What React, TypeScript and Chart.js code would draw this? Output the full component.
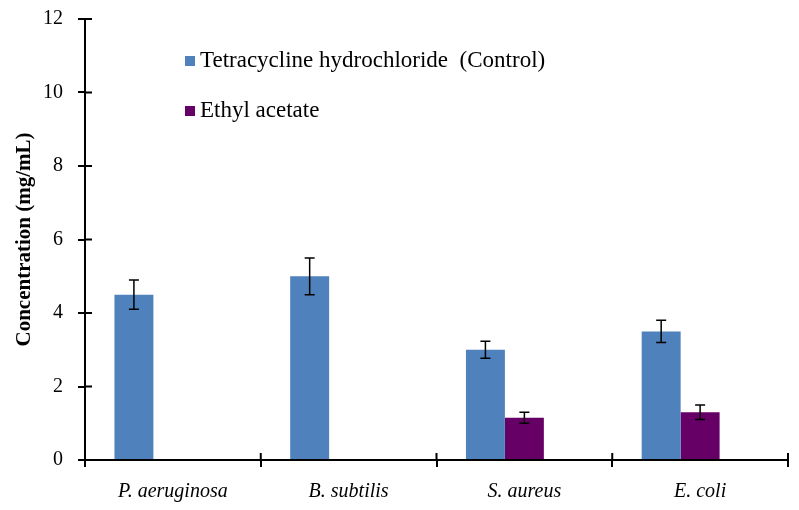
import { useEffect, useRef } from "react"
import { Chart, registerables } from "chart.js"

Chart.register(...registerables)

const categories = ["P. aeruginosa", "B. subtilis", "S. aureus", "E. coli"]
const tetracycline = [4.5, 5.0, 3.0, 3.5]
const tetracyclineErr = [0.4, 0.5, 0.23, 0.3]
const ethylAcetate = [null, null, 1.15, 1.3]
const ethylAcetateErr = [null, null, 0.15, 0.2]
// empty third slot in each group (the source chart reserves room for it)
const unused = [null, null, null, null]

const BLUE = "#4F81BD"
const PURPLE = "#660066"
const FONT = "'Liberation Serif', 'Times New Roman', serif"

const errors = [tetracyclineErr, ethylAcetateErr]

const errorBars = {
  id: "errorBars",
  afterDatasetsDraw(chart) {
    const { ctx } = chart
    const y = chart.scales.y
    ctx.save()
    ctx.strokeStyle = "#000"
    ctx.lineWidth = 1.5
    errors.forEach((errs, di) => {
      const meta = chart.getDatasetMeta(di)
      const values = chart.data.datasets[di].data
      meta.data.forEach((bar, i) => {
        const v = values[i]
        const e = errs[i]
        if (v == null || e == null) return
        const top = y.getPixelForValue(v + e)
        const bot = y.getPixelForValue(v - e)
        ctx.beginPath()
        ctx.moveTo(bar.x, top)
        ctx.lineTo(bar.x, bot)
        ctx.moveTo(bar.x - 5, top)
        ctx.lineTo(bar.x + 5, top)
        ctx.moveTo(bar.x - 5, bot)
        ctx.lineTo(bar.x + 5, bot)
        ctx.stroke()
      })
    })
    ctx.restore()
  },
}

// inner half of the crossing tick marks
const innerTicks = {
  id: "innerTicks",
  afterDraw(chart) {
    const { ctx, chartArea } = chart
    const x = chart.scales.x
    const y = chart.scales.y
    ctx.save()
    ctx.strokeStyle = "#000"
    ctx.lineWidth = 2
    ctx.beginPath()
    y.ticks.forEach((t) => {
      const py = y.getPixelForValue(t.value)
      ctx.moveTo(chartArea.left, py)
      ctx.lineTo(chartArea.left + 7, py)
    })
    for (let i = 0; i <= categories.length; i++) {
      const px = x.getPixelForValue(i - 0.5)
      ctx.moveTo(px, chartArea.bottom)
      ctx.lineTo(px, chartArea.bottom - 7)
    }
    ctx.stroke()
    ctx.restore()
  },
}

export default function App() {
  const chartRef = useRef(null)
  const chartInstance = useRef(null)

  useEffect(() => {
    if (chartInstance.current) chartInstance.current.destroy()
    if (!chartRef.current) return
    const ctx = chartRef.current.getContext("2d")

    chartInstance.current = new Chart(ctx, {
      type: "bar",
      data: {
        labels: categories,
        datasets: [
          { label: "Tetracycline hydrochloride  (Control)", data: tetracycline, backgroundColor: BLUE },
          { label: "Ethyl acetate", data: ethylAcetate, backgroundColor: PURPLE },
          { label: "", data: unused, backgroundColor: "transparent" },
        ],
      },
      options: {
        responsive: true,
        maintainAspectRatio: false,
        animation: false,
        layout: { padding: { top: 19, right: 11, left: 0, bottom: 0 } },
        datasets: { bar: { categoryPercentage: 0.665, barPercentage: 1 } },
        plugins: { legend: { display: false }, tooltip: { enabled: false } },
        scales: {
          x: {
            afterFit: (s) => { s.height = 50 },
            grid: { offset: true, drawOnChartArea: false, tickLength: 7, lineWidth: 2, color: "#000", tickColor: "#000" },
            border: { color: "#000", width: 2 },
            ticks: { color: "#000", padding: 13, font: { family: FONT, size: 20, style: "italic" } },
          },
          y: {
            min: 0,
            max: 12,
            afterFit: (s) => {
              s.width = 85
              s.paddingTop = 0
              s.paddingBottom = 0
            },
            grid: { drawOnChartArea: false, tickLength: 7, lineWidth: 2, color: "#000", tickColor: "#000" },
            border: { color: "#000", width: 2 },
            ticks: { stepSize: 2, color: "#000", padding: 15, font: { family: FONT, size: 20 } },
            title: {
              display: true,
              text: "Concentration (mg/mL)",
              color: "#000",
              padding: { top: 12, bottom: 0 },
              font: { family: FONT, size: 21, weight: "bold" },
            },
          },
        },
      },
      plugins: [errorBars, innerTicks],
    })

    return () => {
      if (chartInstance.current) chartInstance.current.destroy()
    }
  }, [])

  const item = { position: "absolute", left: 200, fontFamily: FONT, fontSize: 23, lineHeight: "23px", whiteSpace: "pre", color: "#000" } as const
  const box = { position: "absolute", left: 185, width: 10, height: 10 } as const

  return (
    <div style={{ position: "fixed", left: 0, top: 0, width: 799, height: 510, background: "#fff" }}>
      <canvas ref={chartRef} />
      <div style={{ ...box, top: 56, background: BLUE }} />
      <div style={{ ...item, top: 48 }}>Tetracycline hydrochloride  (Control)</div>
      <div style={{ ...box, top: 106, background: PURPLE }} />
      <div style={{ ...item, top: 98 }}>Ethyl acetate</div>
    </div>
  )
}
